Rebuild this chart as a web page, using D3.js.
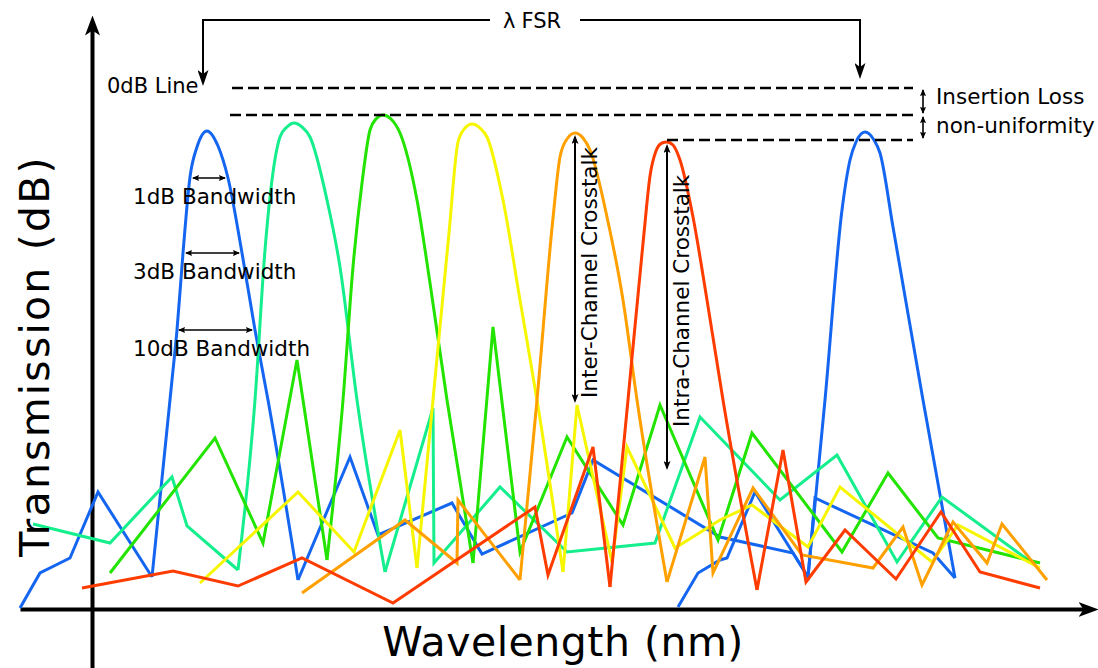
<!DOCTYPE html>
<html>
<head>
<meta charset="utf-8">
<script src="https://cdn.jsdelivr.net/npm/d3@7"></script>
<style>
  body { margin: 0; background: #fff; }
  svg { display: block; font-family: "DejaVu Sans", Verdana, sans-serif; }
</style>
</head>
<body>
<div id="grafico"></div>
<script>
// Datos: cada serie = [ruido antes, pico, ruido despues], puntos [longitud de onda, dB]
var serieAzul1 = [
  [[0,-52.0],[2.0,-48.5],[5.0,-47.0],[7.8,-40.4],[13.2,-48.9]],
  [[13.2,-48.9],[15.2,-29.2],[15.7,-24.2],[16.3,-16.5],[17.0,-8.9],[17.7,-5.9],[18.7,-4.3],[19.8,-5.8],[20.8,-9.0],[22.2,-16.5],[23.5,-24.2],[24.8,-31.2],[27.8,-49.2]],
  [[27.8,-49.2],[33.0,-36.9],[35.8,-44.7],[43.2,-41.5],[46.2,-46.6],[55.2,-42.5],[57.3,-37.2],[70.0,-44.9],[77.3,-46.5],[78.8,-48.9],[79.5,-41.0],[91.3,-46.5],[93.5,-49.0]]
];
var serieAzul2 = [
  [[65.8,-51.9],[67.8,-48.5],[70.0,-47.2],[70.7,-47.0],[73.5,-40.4],[78.8,-48.9]],
  [[78.8,-48.9],[80.5,-31.2],[82.2,-12.2],[83.0,-7.2],[83.6,-5.4],[84.5,-4.4],[85.4,-5.2],[86.0,-6.5],[87.3,-13.9],[90.3,-31.2],[93.5,-49.0]],
  []
];
var serieVerdeAgua = [
  [[1.3,-43.6],[9.0,-45.5],[15.2,-38.9],[16.7,-43.8],[21.8,-48.2]],
  [[21.8,-48.2],[23.5,-31.2],[24.5,-16.2],[25.2,-9.2],[26.0,-4.9],[26.7,-3.9],[27.4,-3.5],[28.2,-3.9],[29.0,-4.9],[30.7,-11.2],[32.0,-17.9],[33.7,-31.2],[36.5,-48.4]],
  [[36.5,-48.4],[41.3,-32.0],[41.4,-47.5],[48.0,-39.9],[54.7,-46.4],[63.5,-45.5],[68.0,-32.9],[76.0,-41.2],[81.7,-36.7],[87.7,-47.4],[92.2,-40.9],[101.5,-47.7]]
];
var serieVerde = [
  [[9.0,-48.5],[19.5,-35.0],[24.3,-45.5],[27.7,-27.2],[30.7,-47.2]],
  [[30.7,-47.2],[32.3,-31.2],[33.3,-17.9],[34.2,-9.5],[35.0,-4.2],[35.6,-3.1],[36.3,-2.7],[37.1,-3.1],[38.0,-4.5],[39.7,-11.2],[41.0,-19.5],[42.7,-31.2],[45.3,-47.5]],
  [[45.3,-47.5],[47.3,-23.9],[50.0,-46.4],[54.7,-34.9],[60.3,-43.7],[64.0,-31.7],[69.8,-45.2],[73.2,-34.5],[82.2,-46.4],[86.8,-38.5],[91.8,-45.0],[102.0,-47.5]]
];
var serieAmarilla = [
  [[18.0,-49.5],[27.8,-40.4],[33.4,-46.4],[38.0,-34.2],[39.7,-48.0]],
  [[39.7,-48.0],[41.3,-31.2],[42.9,-14.5],[43.8,-5.4],[44.5,-4.0],[45.2,-3.6],[46.0,-4.0],[46.7,-4.9],[48.3,-11.2],[50.0,-21.2],[51.7,-31.2],[54.3,-48.4]],
  [[54.3,-48.4],[55.7,-31.7],[59.2,-47.4],[60.7,-35.9],[65.5,-46.0],[70.0,-43.2],[73.2,-41.7],[78.8,-45.9],[82.0,-39.9],[91.2,-47.4],[93.8,-43.7],[102.0,-48.0]]
];
var serieNaranja = [
  [[28.2,-50.5],[38.5,-43.2],[43.7,-47.5],[43.8,-41.2],[50.0,-49.2]],
  [[50.0,-49.2],[51.7,-31.2],[53.3,-13.0],[54.0,-6.9],[54.7,-5.1],[55.5,-4.5],[56.3,-5.0],[57.0,-6.2],[58.7,-12.9],[60.3,-21.2],[61.7,-31.2],[64.7,-49.4]],
  [[64.7,-49.4],[68.5,-36.9],[69.3,-48.5],[73.3,-40.0],[78.2,-46.7],[85.3,-48.0],[88.3,-43.9],[90.2,-49.7],[93.3,-43.4],[96.7,-47.5],[98.2,-43.6],[102.7,-49.2]]
];
var serieRoja = [
  [[6.2,-50.0],[15.3,-48.3],[21.8,-49.8],[28.2,-47.0],[37.3,-51.5],[51.5,-41.9],[52.8,-48.7],[57.3,-35.9],[59.0,-49.9]],
  [[59.0,-49.9],[60.8,-31.2],[62.4,-14.5],[63.0,-8.8],[63.6,-6.3],[64.2,-5.5],[64.7,-5.4],[65.3,-5.7],[66.0,-7.2],[67.3,-12.9],[68.7,-21.2],[70.3,-31.2],[73.7,-50.2]],
  [[73.7,-50.2],[76.3,-36.2],[78.6,-49.4],[82.5,-44.2],[87.6,-49.1],[92.1,-42.4],[96.0,-48.4],[102.0,-50.0]]
];

var series = [serieAzul1, serieAzul2, serieVerdeAgua, serieVerde, serieAmarilla, serieNaranja, serieRoja];
var colores = ["#1466f0", "#1466f0", "#14ee8c", "#22e400", "#f6f600", "#ffa000", "#ff3c00"];

// Anotaciones
var nivelesLinea = [0, -2.7, -5.2];          // lineas discontinuas (dB)
var inicioLinea = [21.2, 21.0, 64.7];
var finLinea = 89.3;
var posFSR = [18.3, 84.0];
var etiquetasBanda = ["1dB Bandwidth", "3dB Bandwidth", "10dB Bandwidth"];
var nivelesBanda = [-9.0, -16.5, -24.2];
var limitesBanda = [[17.0, 20.8], [16.3, 22.2], [15.6, 23.5]];
var textosCruce = ["Inter-Channel Crosstalk", "Intra-Channel Crosstalk"];
var xCruce = [55.5, 64.7];
var topeCruce = [-4.5, -5.4];
var baseCruce = [-31.7, -38.4];

function dibujar() {
  var svg = d3.select("#grafico").append("svg")
      .attr("width", 1098)
      .attr("height", 668);

  // Escalas
  var x = d3.scaleLinear().domain([0, 106.7]).range([20, 1087]);
  var y = d3.scaleLinear().domain([-52.1, 0]).range([609, 88]);

  // Puntas de flecha
  var defs = svg.append("defs");
  function flecha(id, largo, ancho, muesca, ref, inicio) {
    var m = defs.append("marker")
        .attr("id", id)
        .attr("markerUnits", "userSpaceOnUse")
        .attr("viewBox", "0 0 " + largo + " " + ancho)
        .attr("markerWidth", largo)
        .attr("markerHeight", ancho)
        .attr("refX", inicio ? largo - ref : ref)
        .attr("refY", ancho / 2)
        .attr("orient", "auto");
    var d = inicio
      ? "M" + largo + ",0L0," + ancho / 2 + "L" + largo + "," + ancho + "L" + (largo - muesca) + "," + ancho / 2 + "Z"
      : "M0,0L" + largo + "," + ancho / 2 + "L0," + ancho + "L" + muesca + "," + ancho / 2 + "Z";
    m.append("path").attr("d", d).attr("fill", "#000");
  }
  flecha("flechaEje", 20, 15, 5, 9, false);
  flecha("flechaFSR", 16, 11, 4, 13, false);
  flecha("flechaMedIni", 9, 7, 2, 7, true);
  flecha("flechaMedFin", 9, 7, 2, 7, false);
  flecha("flechaChIni", 7, 6, 1, 6, true);
  flecha("flechaChFin", 7, 6, 1, 6, false);

  // Ejes
  var yEje = d3.scaleLinear().domain([-58, 6.2]).range([y(-58), y(6.2)]);
  svg.append("g")
     .attr("transform", "translate(0," + y(-52.1) + ")")
     .call(d3.axisBottom(x).tickValues([]).tickSizeOuter(0))
     .select(".domain")
     .attr("stroke-width", 4)
     .attr("marker-end", "url(#flechaEje)");
  svg.append("g")
     .attr("transform", "translate(" + x(7.2) + ",0)")
     .call(d3.axisLeft(yEje).tickValues([]).tickSizeOuter(0))
     .select(".domain")
     .attr("stroke-width", 4)
     .attr("marker-end", "url(#flechaEje)");

  // Series
  var linea = d3.line().x(function(d) { return x(d[0]); }).y(function(d) { return y(d[1]); });
  var curva = d3.line().x(function(d) { return x(d[0]); }).y(function(d) { return y(d[1]); }).curve(d3.curveMonotoneX);

  var grupos = svg.append("g")
     .selectAll("g")
     .data(series)
     .enter().append("g")
     .attr("fill", "none")
     .attr("stroke", function(d, i) { return colores[i]; })
     .attr("stroke-width", 3);
  grupos.selectAll("path")
     .data(function(d) { return d.filter(function(s) { return s.length; }).map(function(s) { return { pts: s, pico: s === d[1] }; }); })
     .enter().append("path")
     .attr("d", function(d) { return d.pico ? curva(d.pts) : linea(d.pts); });

  // Lineas discontinuas de perdida
  svg.append("g")
     .selectAll("line")
     .data(nivelesLinea)
     .enter().append("line")
     .attr("x1", function(d, i) { return x(inicioLinea[i]); })
     .attr("x2", x(finLinea))
     .attr("y1", function(d) { return y(d); })
     .attr("y2", function(d) { return y(d); })
     .attr("stroke", "#000")
     .attr("stroke-width", 2.4)
     .attr("stroke-dasharray", "11,5");

  // Flechas de insercion
  svg.append("g")
     .selectAll("line")
     .data([0, 1])
     .enter().append("line")
     .attr("x1", x(90.3)).attr("x2", x(90.3))
     .attr("y1", function(i) { return y(nivelesLinea[i]) + 2; })
     .attr("y2", function(i) { return y(nivelesLinea[i + 1]) - 2; })
     .attr("stroke", "#000")
     .attr("stroke-width", 1.6)
     .attr("marker-start", "url(#flechaChIni)")
     .attr("marker-end", "url(#flechaChFin)");

  var chico = 21.5;
  svg.append("text").attr("x", 936).attr("y", 104).attr("font-size", chico).text("Insertion Loss");
  svg.append("text").attr("x", 936).attr("y", 133).attr("font-size", chico).text("non-uniformity");

  // FSR
  var yFSR = 20;
  svg.append("path")
     .attr("d", "M" + 490 + "," + yFSR + "H" + x(posFSR[0]) + "V" + (y(0) - 5))
     .attr("fill", "none").attr("stroke", "#000").attr("stroke-width", 2)
     .attr("marker-end", "url(#flechaFSR)");
  svg.append("path")
     .attr("d", "M" + 580 + "," + yFSR + "H" + x(posFSR[1]) + "V" + (y(0) - 12))
     .attr("fill", "none").attr("stroke", "#000").attr("stroke-width", 2)
     .attr("marker-end", "url(#flechaFSR)");
  var fsr = svg.append("text").attr("x", 503).attr("y", 28).attr("font-size", 21);
  fsr.append("tspan").text("λ");
  fsr.append("tspan").attr("dx", 6).attr("font-size", 21).text("FSR");

  svg.append("text").attr("x", 107).attr("y", 93).attr("font-size", 21).text("0dB Line");

  // Anchos de banda
  var banda = svg.append("g")
     .selectAll("g")
     .data(etiquetasBanda)
     .enter().append("g");
  banda.append("line")
     .attr("x1", function(d, i) { return x(limitesBanda[i][0]) + 3; })
     .attr("x2", function(d, i) { return x(limitesBanda[i][1]) - 3; })
     .attr("y1", function(d, i) { return y(nivelesBanda[i]); })
     .attr("y2", function(d, i) { return y(nivelesBanda[i]); })
     .attr("stroke", "#000")
     .attr("stroke-width", 1.5)
     .attr("marker-start", "url(#flechaChIni)")
     .attr("marker-end", "url(#flechaChFin)");
  banda.append("text")
     .attr("x", 133)
     .attr("y", function(d, i) { return y(nivelesBanda[i]) + 26; })
     .attr("font-size", chico)
     .text(function(d) { return d; });

  // Diafonia
  var cruce = svg.append("g")
     .selectAll("g")
     .data(textosCruce)
     .enter().append("g");
  cruce.append("line")
     .attr("x1", function(d, i) { return x(xCruce[i]); })
     .attr("x2", function(d, i) { return x(xCruce[i]); })
     .attr("y1", function(d, i) { return y(topeCruce[i]) + 4; })
     .attr("y2", function(d, i) { return y(baseCruce[i]) - 4; })
     .attr("stroke", "#000")
     .attr("stroke-width", 2)
     .attr("marker-start", "url(#flechaMedIni)")
     .attr("marker-end", "url(#flechaMedFin)");
  cruce.append("text")
     .attr("transform", function(d, i) {
        return "translate(" + (x(xCruce[i]) + 22) + "," + (i ? 427 : 398) + ") rotate(-90)";
     })
     .attr("font-size", chico)
     .text(function(d) { return d; });

  // Titulos de ejes
  svg.append("text")
     .attr("x", 563).attr("y", 656)
     .attr("text-anchor", "middle")
     .attr("font-size", 41)
     .attr("letter-spacing", 0.5)
     .text("Wavelength (nm)");
  svg.append("text")
     .attr("transform", "translate(49,356) rotate(-90)")
     .attr("text-anchor", "middle")
     .attr("font-size", 41)
     .attr("letter-spacing", 2.2)
     .text("Transmission (dB)");
}

dibujar();
</script>
</body>
</html>
